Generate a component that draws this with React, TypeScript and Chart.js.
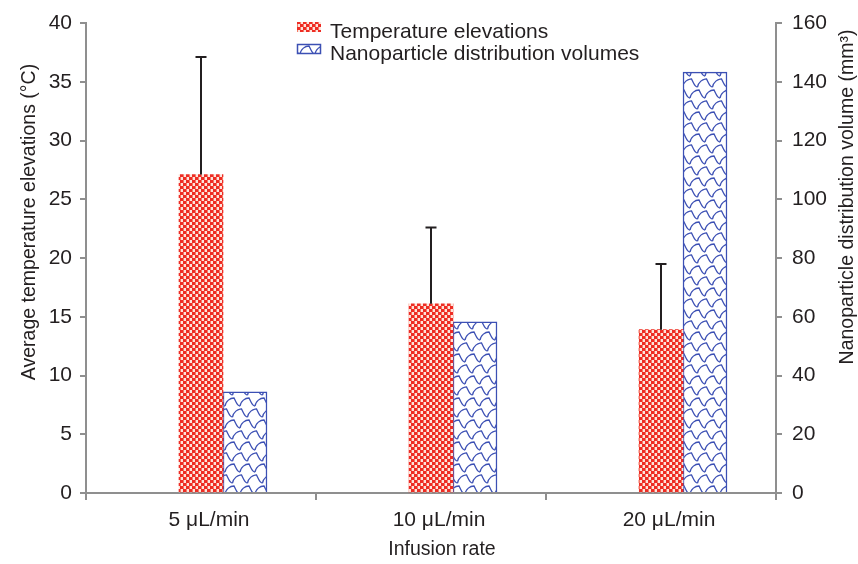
import React, { useEffect, useRef } from "react";
import { Chart, registerables } from "chart.js";

Chart.register(...registerables);

const categories = ["5 \u03bcL/min", "10 \u03bcL/min", "20 \u03bcL/min"];
const tempValues = [27.1, 16.1, 13.9];
const tempErrors = [10.0, 6.5, 5.6];
const volumeValues = [34.4, 58.3, 143.3];
const tempLabel = "Temperature elevations";
const volumeLabel = "Nanoparticle distribution volumes";
const leftTitle = "Average temperature elevations (\u00b0C)";
const rightTitle = "Nanoparticle distribution volume (mm\u00b3)";
const xTitle = "Infusion rate";

const FONT = "'Liberation Sans', Arial, Helvetica, sans-serif";
const TEXT = "#231f20";
const AXIS = "#8f8f8f";
const RED = "#ee2c24";
const BLUE = "#3c50b4";

function makeRedPattern(ctx: CanvasRenderingContext2D) {
  const c = document.createElement("canvas");
  c.width = 6;
  c.height = 6;
  const g = c.getContext("2d")!;
  g.fillStyle = "#fde4dc";
  g.fillRect(0, 0, 6, 6);
  g.fillStyle = RED;
  g.fillRect(0, 0, 3, 3);
  g.fillRect(3, 3, 3, 3);
  g.fillStyle = "#f57a66";
  g.fillRect(3, 0, 1, 3);
  g.fillRect(0, 3, 1, 3);
  return ctx.createPattern(c, "repeat")!;
}

function makeBluePattern(ctx: CanvasRenderingContext2D) {
  const w = 15;
  const h = 22;
  const c = document.createElement("canvas");
  c.width = w;
  c.height = h;
  const g = c.getContext("2d")!;
  g.fillStyle = "#ffffff";
  g.fillRect(0, 0, w, h);
  g.strokeStyle = BLUE;
  g.lineWidth = 1.3;
  const shape = (ox: number, oy: number) => {
    g.beginPath();
    g.moveTo(ox + 0, oy + 10);
    g.bezierCurveTo(ox + 1, oy + 5, ox + 5, oy + 2, ox + 9, oy + 2);
    g.lineTo(ox + 11, oy + 6);
    g.quadraticCurveTo(ox + 13, oy + 10, ox + 15, oy + 10);
    g.stroke();
  };
  for (const dx of [-w, 0, w]) {
    shape(dx, 0);
    shape(dx + 7.5, 11);
    shape(dx + 7.5, -11);
    shape(dx, 22);
  }
  return ctx.createPattern(c, "repeat")!;
}

const errorBarPlugin = {
  id: "errorBars",
  afterDatasetsDraw(chart: any) {
    const meta = chart.getDatasetMeta(1);
    const yScale = chart.scales.y;
    const ctx = chart.ctx;
    ctx.save();
    ctx.strokeStyle = TEXT;
    ctx.lineWidth = 2;
    meta.data.forEach((bar: any, i: number) => {
      const top = yScale.getPixelForValue(tempValues[i] + tempErrors[i]);
      ctx.beginPath();
      ctx.moveTo(bar.x, bar.y);
      ctx.lineTo(bar.x, top);
      ctx.moveTo(bar.x - 5.5, top);
      ctx.lineTo(bar.x + 5.5, top);
      ctx.stroke();
    });
    ctx.restore();
  },
};

const decorPlugin = {
  id: "decor",
  afterDraw(chart: any) {
    const ctx = chart.ctx;
    const ds = chart.data.datasets;
    ctx.save();
    // legend
    ctx.font = `21px ${FONT}`;
    ctx.fillStyle = TEXT;
    ctx.textBaseline = "alphabetic";
    ctx.textAlign = "left";
    const items = [ds[1], ds[2]];
    items.forEach((d: any, i: number) => {
      const y = 22 + i * 22;
      ctx.fillStyle = d.backgroundColor;
      ctx.fillRect(297, y, 24, 10);
      if (d.borderWidth) {
        ctx.strokeStyle = d.borderColor;
        ctx.lineWidth = 1.5;
        ctx.strokeRect(297.5, y + 0.5, 23, 9);
      }
      ctx.fillStyle = TEXT;
      ctx.fillText(d.label, 330, y + 16);
    });
    // axis titles
    ctx.font = `19.5px ${FONT}`;
    ctx.textAlign = "center";
    ctx.textBaseline = "middle";
    ctx.fillText(xTitle, 442, 550);
    ctx.save();
    ctx.translate(30, 222);
    ctx.rotate(-Math.PI / 2);
    ctx.fillText(leftTitle, 0, 0);
    ctx.restore();
    ctx.save();
    ctx.translate(848, 197);
    ctx.rotate(-Math.PI / 2);
    ctx.fillText(rightTitle, 0, 0);
    ctx.restore();
    ctx.restore();
  },
};

export default function App() {
  const ref = useRef<HTMLCanvasElement | null>(null);
  useEffect(() => {
    const canvas = ref.current!;
    const ctx = canvas.getContext("2d")!;
    const redPattern = makeRedPattern(ctx);
    const bluePattern = makeBluePattern(ctx);
    const tickFont = { family: FONT, size: 21 };
    const chart = new Chart(canvas, {
      type: "bar",
      data: {
        labels: categories,
        datasets: [
          {
            label: "",
            data: categories.map(() => null),
            yAxisID: "y",
            backgroundColor: "rgba(0,0,0,0)",
          },
          {
            label: tempLabel,
            data: tempValues,
            yAxisID: "y",
            backgroundColor: redPattern as any,
            borderWidth: 0,
          },
          {
            label: volumeLabel,
            data: volumeValues,
            yAxisID: "y1",
            backgroundColor: bluePattern as any,
            borderColor: BLUE,
            borderWidth: 1.5,
          },
        ],
      },
      options: {
        responsive: false,
        animation: false,
        datasets: { bar: { barThickness: 44 } },
        layout: { padding: { top: 23, left: 0, right: 0, bottom: 0 } },
        plugins: {
          legend: { display: false },
          tooltip: { enabled: false },
        },
        scales: {
          x: {
            offset: true,
            grid: {
              offset: true,
              drawOnChartArea: false,
              drawTicks: true,
              tickLength: 7,
              color: AXIS,
              lineWidth: 2,
            },
            border: { display: true, color: AXIS, width: 2 },
            ticks: { font: tickFont, color: TEXT, padding: 8, labelOffset: 8 },
            afterFit: (s: any) => {
              s.height = 71;
            },
          },
          y: {
            position: "left",
            min: 0,
            max: 40,
            grid: {
              drawOnChartArea: false,
              drawTicks: true,
              tickLength: 6,
              color: AXIS,
              lineWidth: 2,
            },
            border: { display: true, color: AXIS, width: 2 },
            ticks: { stepSize: 5, font: tickFont, color: TEXT, padding: 8 },
            afterFit: (s: any) => {
              s.width = 86;
            },
          },
          y1: {
            position: "right",
            min: 0,
            max: 160,
            grid: {
              drawOnChartArea: false,
              drawTicks: true,
              tickLength: 6,
              color: AXIS,
              lineWidth: 2,
            },
            border: { display: true, color: AXIS, width: 2 },
            ticks: { stepSize: 20, font: tickFont, color: TEXT, padding: 10 },
            afterFit: (s: any) => {
              s.width = 82;
            },
          },
        },
      },
      plugins: [errorBarPlugin, decorPlugin],
    });
    return () => chart.destroy();
  }, []);
  return (
    <div style={{ position: "fixed", left: 0, top: 0, width: 858, height: 564, background: "#fff" }}>
      <canvas ref={ref} width={858} height={564} style={{ display: "block" }} />
    </div>
  );
}
